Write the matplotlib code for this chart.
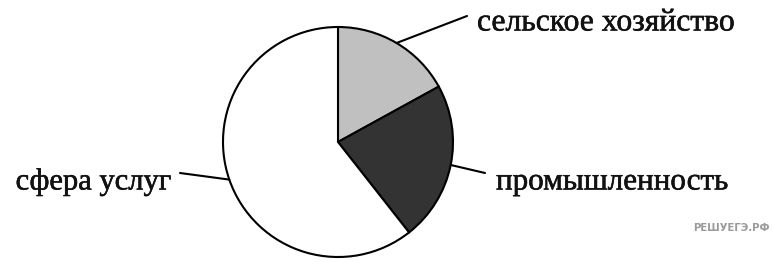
import numpy as np
import matplotlib
matplotlib.use("Agg")
import matplotlib.pyplot as plt
import matplotlib.patheffects as pe

categories = ["сельское хозяйство", "промышленность", "сфера услуг"]
values = [17.0, 22.4, 60.6]
colors = ["#c0c0c0", "#333333", "#ffffff"]
watermark = "РЕШУЕГЭ.РФ"

W, H = 773, 262
fig = plt.figure(figsize=(W / 100, H / 100), dpi=100)
ax = fig.add_axes([0, 0, 1, 1])
ax.set_aspect("equal")

center = (338, 120)
radius = 115
wedges, _ = ax.pie(values, colors=colors, startangle=90, counterclock=False,
                   center=center, radius=radius, frame=True,
                   wedgeprops=dict(edgecolor="black", linewidth=1.5))
ax.set_xlim(0, W)
ax.set_ylim(0, H)
ax.axis("off")

# label layout: (line end, text position, ha)
layout = [((467, 246), (477, 239), "left"),
          ((485, 89), (496, 80), "left"),
          ((180, 89), (171, 80), "right")]
sizes = [22.8, 22.4, 22.0]

for w, lab, (lend, tpos, ha), fs in zip(wedges, categories, layout, sizes):
    mid = np.deg2rad((w.theta1 + w.theta2) / 2)
    sx = center[0] + radius * np.cos(mid)
    sy = center[1] + radius * np.sin(mid)
    ax.plot([sx, lend[0]], [sy, lend[1]], color="black", lw=1.5,
            solid_capstyle="round")
    ax.text(tpos[0], tpos[1], lab, ha=ha, va="center",
            family="Liberation Serif", fontsize=fs, color="#111111",
            path_effects=[pe.withStroke(linewidth=0.4, foreground="#111111")])

ax.text(770, 34, watermark, ha="right", va="center", family="DejaVu Sans",
        fontsize=7.3, fontweight="bold", color="#9a9a9a")

fig.savefig("out.png", dpi=100)
